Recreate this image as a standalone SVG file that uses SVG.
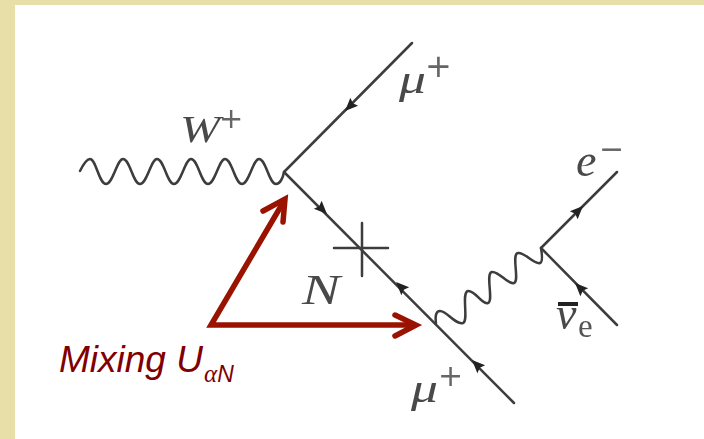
<svg xmlns="http://www.w3.org/2000/svg" width="704" height="439" viewBox="0 0 704 439">
<style>
.l{fill:none;stroke:#3c3c3c;stroke-width:2.5;stroke-linecap:round;stroke-linejoin:round}
.h{fill:#222;stroke:none}
.r{fill:none;stroke:#991300;stroke-width:5.5;stroke-linejoin:miter}
.m{font-family:"Liberation Serif",serif;font-style:italic;fill:#484848}
.p{font-family:"DejaVu Sans",sans-serif;fill:#666}
.t{font-family:"Liberation Sans",Arial,sans-serif;font-style:italic;fill:#800000}
</style>
<defs>
<filter id="b" x="-5%" y="-5%" width="110%" height="110%"><feGaussianBlur stdDeviation="0.6"/></filter>
<path id="a" class="h" d="M7,0 L-6,-5.5 L-4,0 L-6,5.5 Z"/>
</defs>
<rect width="704" height="439" fill="#fff"/>
<rect width="704" height="5" fill="#e8dfa8"/>
<rect width="15" height="439" fill="#e8dfa8"/>
<g id="connectors" filter="url(#b)">
<path class="l" d="M412,43 L284,172 L514,403"/>
<path class="l" d="M541,248 L617,172 M541,248 L617,325"/>
<path class="l" d="M80,171 C84,163 87,159 90,159 C96,159 99,184 106,184 C113,184 117,159 123,159 C130,159 133,184 140,184 C147,184 151,159 157,159 C164,159 167,184 174,184 C181,184 185,159 191,159 C198,159 201,184 208,184 C215,184 219,159 225,159 C232,159 235,184 242,184 C249,184 253,159 259,159 C266,159 269,184 276,184 C280,184 283,178 284,172"/>
<path class="l" d="M436,323 C435,316 436,311 440,311 C447,311 455,325 463,323 C469,321 461,292 468,291 C475,290 482,305 488,303 C494,301 485,273 492,272 C499,271 508,285 514,283 C520,281 511,254 518,253 C525,252 534,265 540,263 C543,262 542,254 541,248"/>
<use href="#a" transform="translate(350,106) rotate(135)"/>
<use href="#a" transform="translate(322,209) rotate(45)"/>
<use href="#a" transform="translate(401,287) rotate(-135)"/>
<use href="#a" transform="translate(477,365) rotate(-135)"/>
<use href="#a" transform="translate(578,211) rotate(-45)"/>
<use href="#a" transform="translate(580,288) rotate(-135)"/>
</g>
<g id="cross" filter="url(#b)"><path class="l" d="M334,248 H388 M362,223 V276"/></g>
<g id="label-w" filter="url(#b)"><text class="m" x="180" y="142" font-size="38" textLength="40" lengthAdjust="spacingAndGlyphs">W</text><text class="p" x="219" y="128" font-size="29">+</text></g>
<g id="label-mu-top" filter="url(#b)"><text class="m" x="399" y="93" font-size="41" textLength="27" lengthAdjust="spacingAndGlyphs">μ</text><text class="p" x="425" y="77" font-size="32">+</text></g>
<g id="label-n" filter="url(#b)"><text class="m" x="302" y="304" font-size="42" textLength="38" lengthAdjust="spacingAndGlyphs">N</text></g>
<g id="label-mu-bot" filter="url(#b)"><text class="m" x="411" y="402" font-size="41" textLength="27" lengthAdjust="spacingAndGlyphs">μ</text><text class="p" x="438" y="386" font-size="30">+</text></g>
<g id="label-e" filter="url(#b)"><text class="m" x="576" y="176" font-size="46">e</text><text class="p" x="599" y="159" font-size="30">−</text></g>
<g id="label-nu" filter="url(#b)"><rect x="558" y="302" width="20" height="4" fill="#222"/><text class="m" x="556" y="329" font-size="46">ν</text><text x="578" y="337" font-size="33" font-family="'Liberation Serif',serif" fill="#555">e</text></g>
<g id="mixing">
<path class="r" d="M284,201 L211,325 H415"/>
<path class="r" stroke-linecap="round" d="M263,211 L285,199 L283,222"/>
<path class="r" stroke-linecap="round" d="M395,315 L416,325 L395,336"/>
<text class="t" x="59" y="372" font-size="37">Mixing U</text>
<text class="t" x="204" y="382" font-size="23"><tspan font-family="'Liberation Serif',serif" font-size="25">α</tspan>N</text>
</g>
</svg>
